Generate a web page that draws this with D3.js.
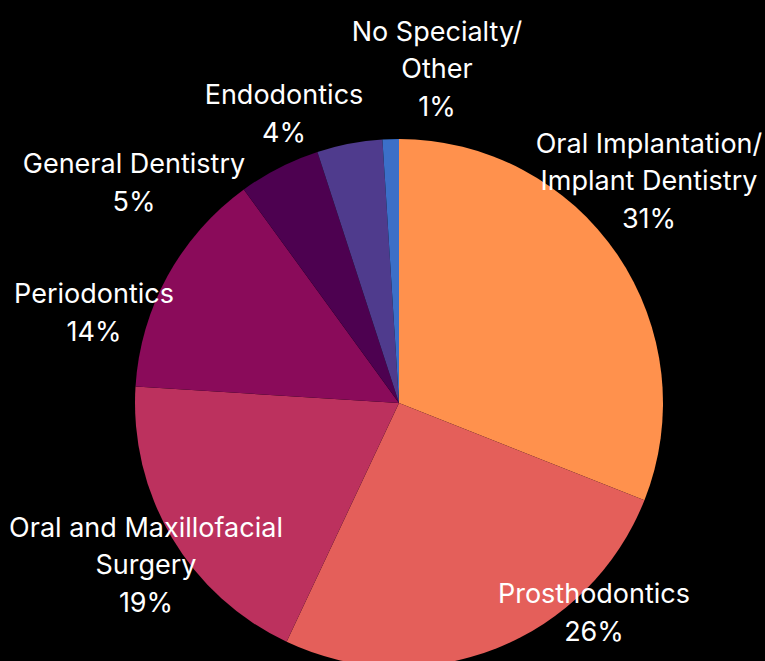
<!DOCTYPE html>
<html>
<head>
<meta charset="utf-8">
<script src="https://cdn.jsdelivr.net/npm/d3@7"></script>
<style>
  html, body { margin: 0; padding: 0; background: #000; }
  svg { display: block; }
  .lbl { fill: #fff; font-family: Inter, "Open Sans", sans-serif; font-size: 27px; }
</style>
</head>
<body>
<svg id="chart" width="765" height="661"></svg>
<script>
// данные
var categories = [
  "Oral Implantation/\nImplant Dentistry",
  "Prosthodontics",
  "Oral and Maxillofacial\nSurgery",
  "Periodontics",
  "General Dentistry",
  "Endodontics",
  "No Specialty/\nOther"
];
var values = [31, 26, 19, 14, 5, 4, 1];
var colors = ["#ff914d", "#e45f5a", "#bc315e", "#8a0b5a", "#4d0150", "#4f3b8d", "#3b6fc8"];

// положение подписей (центр блока текста)
var labelPos = [
  [649, 180], [594, 612], [146, 564], [94, 312], [134, 182], [284, 113], [437, 68]
];

var svg = d3.select("#chart");
var cx = 399, cy = 403, r = 264;

var pie = d3.pie().sort(null).value(d => d)(values);
var arc = d3.arc().innerRadius(0).outerRadius(r);

svg.append("g")
  .attr("transform", `translate(${cx},${cy})`)
  .selectAll("path")
  .data(pie)
  .enter()
  .append("path")
  .attr("d", arc)
  .attr("fill", (d, i) => colors[i]);

var lineH = 37.5;
var labels = svg.append("g");
categories.forEach(function(c, i) {
  var lines = c.split("\n").concat([values[i] + "%"]);
  var y0 = labelPos[i][1] - (lines.length - 1) * lineH / 2;
  var t = labels.append("text")
    .attr("class", "lbl")
    .attr("text-anchor", "middle")
    .attr("dominant-baseline", "central");
  lines.forEach(function(l, j) {
    t.append("tspan")
      .attr("x", labelPos[i][0])
      .attr("y", y0 + j * lineH)
      .text(l);
  });
});
</script>
</body>
</html>
